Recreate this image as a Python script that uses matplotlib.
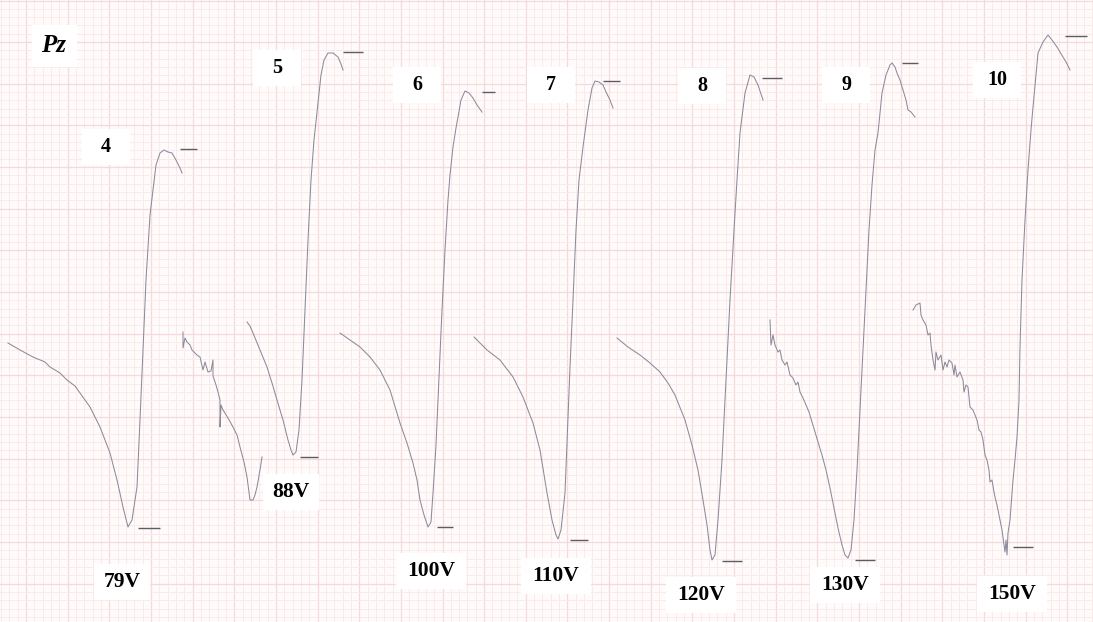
import numpy as np
import matplotlib.pyplot as plt
from matplotlib.patches import Rectangle

# paper coordinates: x to the right, y downwards (1 minor square = 8.33 units)
W, H = 1093, 622

# --- traces, one per stimulation level ---
t79_x = [8, 20, 33, 45, 50, 60, 67, 75, 80, 90, 100, 110, 117, 123, 128, 132, 137, 140, 143, 146, 150, 153, 156, 160, 164, 168, 172, 176, 180, 182]
t79_y = [343, 350, 357, 362, 367, 373, 380, 386, 393, 407, 427, 453, 480, 507, 527, 520, 487, 420, 350, 280, 215, 190, 165, 153, 150, 152, 153, 160, 168, 173]

t88a_x = [183, 183, 185, 187, 190, 192, 197, 200, 203, 205, 208, 211, 213, 213, 216, 218, 220, 220, 221, 223, 228, 233, 237, 240, 244, 247, 250, 253, 255, 257, 260, 262]
t88a_y = [332, 348, 338, 342, 345, 350, 355, 357, 370, 362, 372, 371, 360, 376, 385, 392, 400, 427, 405, 410, 418, 427, 435, 447, 462, 477, 500, 500, 495, 487, 470, 457]
t88b_x = [247, 250, 253, 260, 267, 272, 277, 283, 288, 291, 293, 296, 299, 302, 305, 308, 311, 314, 318, 321, 324, 328, 333, 338, 341, 343]
t88b_y = [322, 326, 333, 350, 367, 383, 400, 420, 440, 450, 455, 452, 430, 380, 310, 240, 180, 140, 103, 75, 60, 53, 53, 57, 64, 70]

t100_x = [340, 350, 360, 370, 380, 390, 400, 407, 413, 417, 420, 424, 428, 431, 433, 436, 438, 440, 442, 445, 448, 450, 453, 456, 458, 461, 465, 469, 473, 477, 482]
t100_y = [333, 340, 347, 357, 370, 390, 423, 443, 463, 480, 500, 515, 527, 522, 493, 445, 400, 355, 310, 250, 200, 175, 147, 128, 117, 100, 91, 93, 98, 105, 112]

t110_x = [474, 487, 500, 513, 523, 533, 540, 547, 552, 556, 558, 561, 565, 570, 573, 576, 579, 583, 588, 592, 595, 599, 603, 606, 610, 613]
t110_y = [337, 350, 360, 377, 397, 423, 450, 493, 520, 535, 539, 530, 493, 367, 300, 230, 180, 147, 110, 88, 81, 82, 85, 92, 100, 108]

t120_x = [617, 628, 640, 650, 660, 668, 675, 685, 692, 698, 703, 707, 710, 712, 715, 718, 722, 726, 730, 734, 737, 740, 745, 750, 754, 758, 763]
t120_y = [338, 347, 355, 363, 372, 383, 395, 420, 445, 470, 500, 525, 550, 560, 555, 520, 460, 380, 300, 230, 180, 133, 93, 75, 77, 85, 100]

t130_x = [770, 771, 773, 775, 778, 780, 782, 785, 787, 790, 793, 796, 798, 800, 803, 806, 809, 812, 815, 818, 822, 826, 830, 834, 838, 842, 845, 848, 851, 854, 857, 860, 863, 866, 869, 872, 875, 878, 882, 886, 890, 892, 895, 897, 900, 903, 906, 908, 911, 915]
t130_y = [320, 345, 335, 345, 352, 350, 360, 365, 362, 375, 378, 385, 382, 392, 398, 405, 412, 422, 432, 442, 455, 470, 488, 508, 528, 545, 555, 558, 550, 520, 470, 410, 350, 290, 230, 185, 150, 133, 93, 75, 65, 63, 67, 73, 80, 90, 100, 110, 112, 117]

t150_x = [913, 916, 920, 921, 923, 926, 928, 930, 931, 933, 935, 936, 938, 941, 943, 945, 947, 949, 952, 954, 955, 957, 960, 963, 964, 966, 968, 970, 973, 977, 979, 981, 983, 985, 987, 989, 990, 992, 994, 995, 997, 1000, 1002, 1004, 1005, 1006, 1007, 1008, 1010, 1013, 1015, 1017, 1019, 1020, 1022, 1025, 1028, 1031, 1033, 1036, 1038, 1043, 1048, 1052, 1057, 1060, 1063, 1066, 1070]
t150_y = [310, 305, 303, 315, 320, 325, 335, 333, 345, 360, 370, 352, 360, 355, 370, 362, 367, 360, 363, 375, 365, 377, 372, 380, 392, 385, 387, 407, 410, 420, 430, 432, 440, 455, 460, 470, 482, 480, 492, 497, 505, 520, 530, 545, 552, 540, 555, 533, 520, 480, 460, 437, 400, 347, 280, 220, 170, 130, 107, 75, 53, 42, 35, 40, 47, 52, 57, 62, 70]

traces = [(t79_x, t79_y), (t88a_x, t88a_y), (t88b_x, t88b_y), (t100_x, t100_y),
          (t110_x, t110_y), (t120_x, t120_y), (t130_x, t130_y), (t150_x, t150_y)]

# reference ticks at each peak and trough: x start, x end, level
tick_x0 = [180, 343, 482, 603, 762, 902, 1065, 138, 300, 437, 570, 722, 855, 1013]
tick_x1 = [197, 363, 495, 620, 782, 918, 1087, 160, 318, 453, 588, 742, 875, 1033]
tick_y = [149, 52, 92, 81, 78, 63, 36, 528, 457, 527, 540, 561, 560, 547]

# sweep numbers and stimulus voltages
sweep_labels = ["4", "5", "6", "7", "8", "9", "10"]
sweep_cx = [106, 277, 417, 551, 702, 846, 997]
sweep_cy = [147, 68, 85, 85, 86, 85, 80]
volt_labels = ["79V", "88V", "100V", "110V", "120V", "130V", "150V"]
volt_cx = [122, 291, 431, 556, 701, 845, 1012]
volt_cy = [582, 492, 571, 576, 595, 585, 594]

fig = plt.figure(figsize=(W / 100, H / 100), dpi=100)
ax = fig.add_axes([0, 0, 1, 1])
ax.set_xlim(0, W)
ax.set_ylim(H, 0)
ax.axis("off")
fig.patch.set_facecolor("#fffbfb")

# chart paper grid
minor = 8.33
grid_major = "#f5d9dc"
grid_minor = "#faeaec"
for i, x in enumerate(np.arange(26 - 3 * minor, W, minor)):
    major = (i % 5) == 3
    ax.axvline(x, color=grid_major if major else grid_minor, lw=0.9 if major else 0.7, zorder=0)
for i, y in enumerate(np.arange(0.5, H, minor)):
    major = (i % 5) == 0
    ax.axhline(y, color=grid_major if major else grid_minor, lw=0.9 if major else 0.7, zorder=0)

for xs, ys in traces:
    ax.plot(xs, ys, color="#8c8a9c", lw=0.75, zorder=2)

ax.hlines(tick_y, tick_x0, tick_x1, color="#5c5c66", lw=1.0, zorder=2)

def label(cx, cy, w, h, text, size, style="normal"):
    ax.add_patch(Rectangle((cx - w / 2, cy - h / 2), w, h, facecolor="white",
                           edgecolor="none", zorder=3))
    ax.text(cx, cy, text, ha="center", va="center", fontsize=size,
            family="Liberation Serif", weight="bold", style=style, zorder=4)

label(54, 46, 45, 42, "Pz", 18, style="italic")
for t, cx, cy in zip(sweep_labels, sweep_cx, sweep_cy):
    label(cx, cy, 48, 36, t, 14.5)
for t, cx, cy in zip(volt_labels, volt_cx, volt_cy):
    label(cx, cy, 14 + 14 * len(t), 36, t, 15.5)

fig.savefig("out.png", dpi=100, facecolor=fig.get_facecolor())
